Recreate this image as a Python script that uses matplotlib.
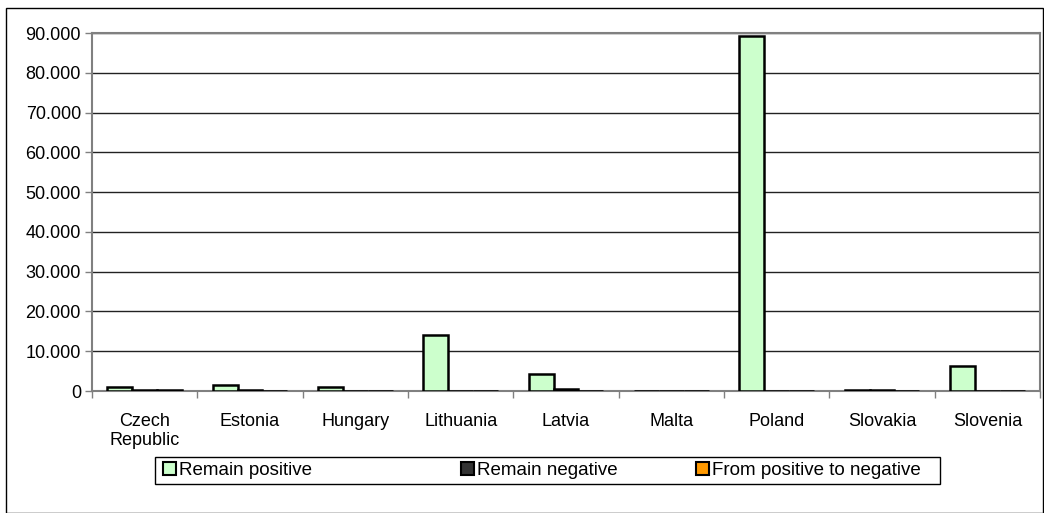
import numpy as np
import matplotlib
matplotlib.use("Agg")
import matplotlib.pyplot as plt
from matplotlib.ticker import FuncFormatter, FixedLocator
from matplotlib.patches import Rectangle

plt.rcParams["font.family"] = ["Liberation Sans", "DejaVu Sans"]

# data
countries = ["Czech\nRepublic", "Estonia", "Hungary", "Lithuania", "Latvia",
             "Malta", "Poland", "Slovakia", "Slovenia"]
remain_positive = [1100, 1450, 1100, 14150, 4250, 100, 89300, 150, 6300]
remain_negative = [350, 200, 50, 0, 400, 100, 0, 150, 0]
pos_to_neg = [150, 0, 0, 0, 0, 0, 0, 0, 0]

series = [
    ("Remain positive", remain_positive, "#CCFFCC"),
    ("Remain negative", remain_negative, "#333333"),
    ("From positive to negative", pos_to_neg, "#FF9900"),
]

fig = plt.figure(figsize=(10.44, 5.13), dpi=100)
ax = fig.add_axes([92 / 1044, 1 - 391 / 513, 948 / 1044, 358 / 513])

x = np.arange(len(countries))
w = 0.237
containers = []
for i, (name, vals, col) in enumerate(series):
    c = ax.bar(x + (i - 1) * w, vals, w, color=col, edgecolor="black",
               linewidth=1.8, label=name, zorder=3)
    containers.append(c)

ax.set_xlim(-0.5, len(countries) - 0.5)
ax.set_ylim(0, 90000)
ax.set_yticks(np.arange(0, 90001, 10000))
ax.yaxis.set_major_formatter(FuncFormatter(lambda v, p: f"{int(v):,}".replace(",", ".")))
ax.grid(axis="y", color="#222222", linewidth=1, zorder=0)

ax.set_xticks(x)
ax.set_xticklabels(countries, fontsize=13, linespacing=1.15)
ax.tick_params(axis="x", length=0, pad=16)
ax.xaxis.set_minor_locator(FixedLocator(np.arange(-0.5, len(countries), 1)))
ax.tick_params(axis="x", which="minor", length=5, color="#808080", width=1)
ax.tick_params(axis="y", length=5, color="#808080", width=1, labelsize=13, pad=3)

for s in ax.spines.values():
    s.set_color("#808080")
    s.set_linewidth(1.5)

# legend: one frame, three entries placed like the original
fig.patches.append(Rectangle((155 / 1044, 1 - 484 / 513), 785 / 1044, 27 / 513,
                             transform=fig.transFigure, fill=False, edgecolor="black", linewidth=1))
leg_x = [155, 453, 688]
for px, c in zip(leg_x, containers):
    lg = fig.legend(handles=[c], loc="center left", bbox_to_anchor=(px / 1044, 1 - 470.5 / 513),
                    fontsize=13.5, frameon=False, handlelength=0.7, handleheight=0.7,
                    handletextpad=0.2, borderaxespad=0)
    for h in lg.legend_handles:
        h.set_linewidth(1.5)

fig.patches.append(Rectangle((6 / 1044, 0), 1037 / 1044, 1 - 8 / 513, transform=fig.transFigure,
                             fill=False, edgecolor="black", linewidth=1))

fig.savefig("out.png", dpi=100)
